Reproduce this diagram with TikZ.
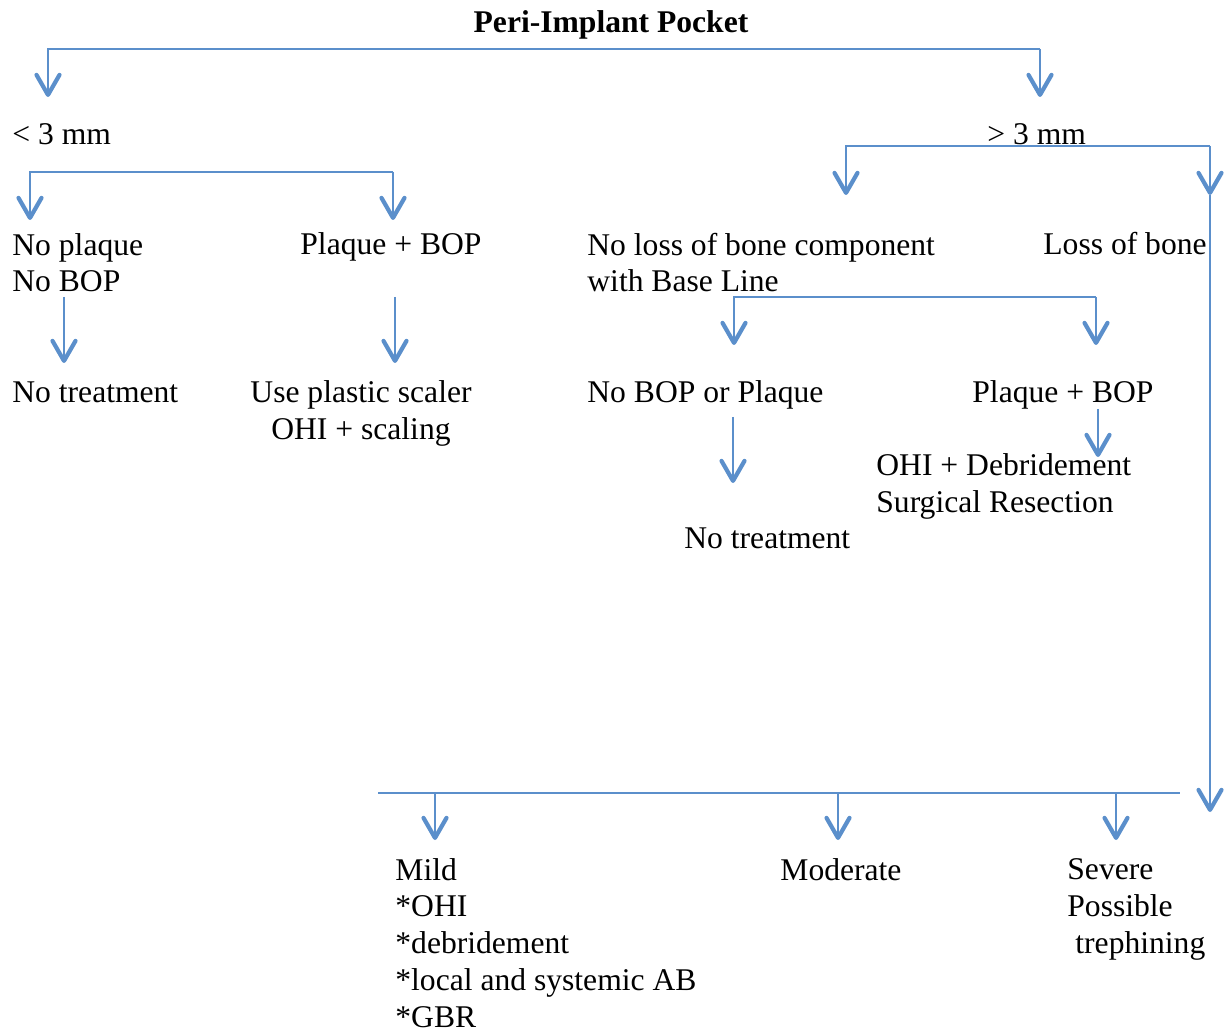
\documentclass[tikz,border=0pt]{standalone}
\usepackage{fontspec}
\setmainfont{Liberation Serif}
\usepackage{xcolor}
\usetikzlibrary{arrows.meta, positioning}

\definecolor{flowblue}{HTML}{5B8FCB}

\begin{document}
\begin{tikzpicture}[x=0.5pt, y=-0.5pt,
    link/.style={flowblue, line width=1.1pt, line join=miter},
    down/.style={link, -{Straight Barb[length=10pt, width=11.5pt, line width=2.1pt, round]}},
    txt/.style={anchor=base west, inner sep=0pt, align=left,
        font=\fontsize{15.8}{18.35}\selectfont}]

\useasboundingbox (0,0) rectangle (1224,1031);

% ============================================================
% TOP: pocket depth
% ============================================================

\node[txt, anchor=base, font=\fontsize{15.8}{18.35}\selectfont\bfseries] (pocket) at (611,33)
    {Peri-Implant Pocket};

\coordinate (splitL) at (48,49);
\coordinate (splitR) at (1040,49);
\coordinate (lessTip) at (48,97);
\coordinate (moreTip) at (1040,97);
\draw[down] (splitR) -- (splitL) -- (lessTip);
\draw[down] (splitR) -- (moreTip);

\node[txt] (less) at (12,145) {\textless\ 3 mm};
\node[txt] (more) at (987,145) {\textgreater\ 3 mm};

% ============================================================
% LEFT: < 3 mm
% ============================================================

\coordinate (lessL) at (30,172);
\coordinate (lessR) at (393,172);
\coordinate (noplaqueTip) at (30,220);
\coordinate (plaqueTip) at (393,220);
\draw[down] (lessR) -- (lessL) -- (noplaqueTip);
\draw[down] (lessR) -- (plaqueTip);

% multi-line nodes sit on the baseline of their last line
\node[txt] (noplaque) at (12,292) {No plaque\\No BOP};
\node[txt] (plaque) at (300,255) {Plaque + BOP};

\coordinate (noplaqueOut) at (64,297);
\coordinate (plaqueOut) at (395,297);
\coordinate (notreatTip) at (64,363);
\coordinate (scalerTip) at (395,363);
\draw[down] (noplaqueOut) -- (notreatTip);
\draw[down] (plaqueOut) -- (scalerTip);

\node[txt] (notreat) at (12,402) {No treatment};
\node[txt, anchor=base, align=center] (scaler) at (361,439)
    {Use plastic scaler\\OHI + scaling};

% ============================================================
% RIGHT: > 3 mm
% ============================================================

\coordinate (moreL) at (846,146);
\coordinate (moreR) at (1210,146);
\coordinate (noboneTip) at (846,195);
\coordinate (boneTip) at (1210,195);
\coordinate (stageTip) at (1210,812);
\draw[down] (moreR) -- (moreL) -- (noboneTip);
\draw[down] (moreR) -- (boneTip);
\draw[down] (boneTip) -- (stageTip);

\node[txt] (nobone) at (587,292) {No loss of bone component\\with Base Line};
\node[txt] (bone) at (1043,255) {Loss of bone};

\coordinate (baseL) at (734,297);
\coordinate (baseR) at (1096,297);
\coordinate (nobopTip) at (734,345);
\coordinate (bopTip) at (1096,345);
\draw[down] (baseR) -- (baseL) -- (nobopTip);
\draw[down] (baseR) -- (bopTip);

\node[txt] (nobop) at (587,402) {No BOP or Plaque};
\node[txt] (bop) at (972,402) {Plaque + BOP};

\coordinate (nobopOut) at (733,417);
\coordinate (nobopEnd) at (733,483);
\coordinate (bopOut) at (1098,409);
\coordinate (bopEnd) at (1098,457);
\draw[down] (nobopOut) -- (nobopEnd);
\draw[down] (bopOut) -- (bopEnd);

\node[txt] (debride) at (876,512) {OHI + Debridement\\Surgical Resection};
\node[txt] (notreatR) at (684,548) {No treatment};

% ============================================================
% BOTTOM: severity
% ============================================================

\coordinate (gradeL) at (378,793);
\coordinate (gradeR) at (1180,793);
\coordinate (mildTip) at (435,840);
\coordinate (moderateTip) at (838,840);
\coordinate (severeTip) at (1116,840);
\draw[link] (gradeL) -- (gradeR);
\foreach \g in {mildTip, moderateTip, severeTip} {
    \draw[down] (gradeL -| \g) -- (\g);
}

\node[txt] (mild) at (395,1027)
    {Mild\\*OHI\\*debridement\\*local and systemic AB\\*GBR};
\node[txt] (moderate) at (780,880) {Moderate};
\node[txt] (severe) at (1067,953) {Severe\\Possible\\\hspace*{4pt}trephining};

\end{tikzpicture}
\end{document}
